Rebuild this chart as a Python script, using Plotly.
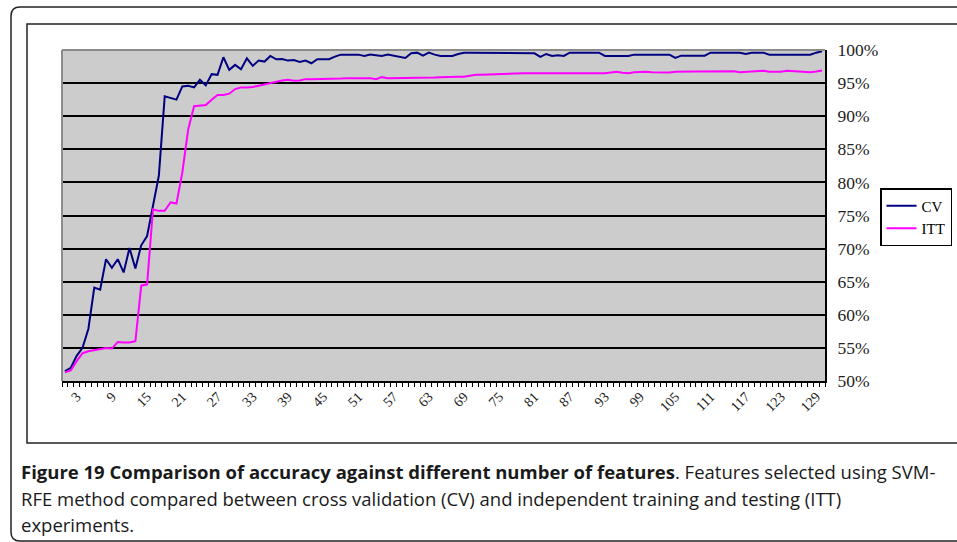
import plotly.graph_objects as go

features = list(range(1, 131))

cv = [51.5, 52.0, 53.8, 55.0, 57.9, 64.1, 63.8, 68.4, 67.1, 68.4,
      66.4, 70.1, 67.0, 70.5, 71.9, 76.2, 81.0, 93.0, 92.8, 92.5,
      94.5, 94.6, 94.35, 95.5, 94.65, 96.35, 96.25, 98.9, 97.0, 97.75,
      97.1, 98.75, 97.6, 98.4, 98.25, 99.1, 98.6, 98.65, 98.4, 98.5,
      98.2, 98.4, 98.0, 98.6, 98.6, 98.6, 99.0, 99.3, 99.3, 99.3,
      99.3, 99.1, 99.3, 99.2, 99.1, 99.3, 99.1, 99.0, 98.8, 99.5,
      99.6, 99.15, 99.6, 99.3, 99.1, 99.1, 99.1, 99.4, 99.6, 99.6,
      99.6, 99.6, 99.6, 99.6, 99.6, 99.6, 99.6, 99.6, 99.6, 99.6,
      99.5, 98.95, 99.4, 99.1, 99.2, 99.1, 99.6, 99.6, 99.6, 99.6,
      99.6, 99.6, 99.1, 99.1, 99.1, 99.1, 99.1, 99.3, 99.3, 99.3,
      99.3, 99.3, 99.3, 99.3, 98.8, 99.15, 99.15, 99.15, 99.15, 99.15,
      99.6, 99.6, 99.6, 99.6, 99.6, 99.6, 99.4, 99.6, 99.6, 99.6,
      99.3, 99.3, 99.3, 99.3, 99.3, 99.3, 99.3, 99.3, 99.6, 99.8]

itt = [51.3, 51.6, 53.0, 54.2, 54.5, 54.7, 54.8, 55.0, 54.9, 55.9,
       55.8, 55.8, 56.0, 64.4, 64.6, 75.9, 75.7, 75.7, 77.0, 76.8,
       81.5, 88.0, 91.5, 91.6, 91.7, 92.5, 93.2, 93.2, 93.4, 94.1,
       94.35, 94.35, 94.4, 94.6, 94.8, 95.0, 95.25, 95.4, 95.5, 95.35,
       95.4, 95.6, 95.6, 95.6, 95.7, 95.65, 95.6, 95.7, 95.75, 95.75,
       95.75, 95.75, 95.75, 95.6, 95.9, 95.75, 95.75, 95.85, 95.75, 95.75,
       95.75, 95.75, 95.75, 95.85, 95.9, 95.95, 95.95, 95.95, 95.95, 96.1,
       96.25, 96.25, 96.3, 96.35, 96.4, 96.4, 96.45, 96.5, 96.5, 96.5,
       96.5, 96.5, 96.4, 96.45, 96.5, 96.5, 96.5, 96.5, 96.5, 96.5,
       96.5, 96.5, 96.5, 96.6, 96.7, 96.55, 96.5, 96.65, 96.7, 96.7,
       96.65, 96.6, 96.6, 96.6, 96.7, 96.75, 96.75, 96.75, 96.75, 96.75,
       96.75, 96.75, 96.75, 96.75, 96.8, 96.65, 96.7, 96.7, 96.7, 96.85,
       96.7, 96.65, 96.7, 96.85, 96.8, 96.75, 96.7, 96.65, 96.75, 96.9]

tick_labels = [3, 9, 15, 21, 27, 33, 39, 45, 51, 57, 63, 69, 75, 81, 87,
               93, 99, 105, 111, 117, 123, 129]
y_ticks = [50, 55, 60, 65, 70, 75, 80, 85, 90, 95, 100]

W, H = 957, 542
L, R, T, B = 62, 825, 50, 381


def px(x):
    return (x - L) / (R - L)


def py(y):
    return (B - y) / (B - T)


SERIF = "Liberation Serif"
SANS = "Open Sans"

fig = go.Figure()
fig.add_trace(go.Scatter(x=features, y=cv, mode="lines", name="CV",
                         line=dict(color="#000080", width=2)))
fig.add_trace(go.Scatter(x=features, y=itt, mode="lines", name="ITT",
                         line=dict(color="#FF00FF", width=2)))

# rounded outer caption box
r = 9
x0, y0, x1, y1 = 11, 7, 990, 541
path = (f"M {px(x0)},{py(y0 + r)} Q {px(x0)},{py(y0)} {px(x0 + r)},{py(y0)} "
        f"L {px(x1)},{py(y0)} L {px(x1)},{py(y1)} L {px(x0 + r)},{py(y1)} "
        f"Q {px(x0)},{py(y1)} {px(x0)},{py(y1 - r)} Z")
shapes = [
    dict(type="path", xref="paper", yref="paper", path=path,
         line=dict(color="#222222", width=1.5), layer="below"),
    dict(type="rect", xref="paper", yref="paper",
         x0=px(27), x1=px(990), y0=py(443), y1=py(24),
         line=dict(color="#222222", width=1.5), layer="below"),
    # grey top / left border of plot area
    dict(type="line", xref="paper", yref="paper", x0=0, x1=1, y0=1, y1=1,
         line=dict(color="#8c8c8c", width=2), layer="above"),
    dict(type="line", xref="paper", yref="paper", x0=0, x1=0, y0=0, y1=1,
         line=dict(color="#8c8c8c", width=2), layer="above"),
]

cap_font = dict(family=SANS, size=18.5, color="#1a1a1a")
annotations = [
    dict(xref="paper", yref="paper", x=px(19), y=py(471), xanchor="left",
         yanchor="middle", showarrow=False,
         text="<b>Figure 19 Comparison of accuracy against different number of features</b>. "
              "Features selected using SVM-",
         font=cap_font),
    dict(xref="paper", yref="paper", x=px(19), y=py(498), xanchor="left",
         yanchor="middle", showarrow=False,
         text="RFE method compared between cross validation (CV) and independent training and testing (ITT)",
         font=cap_font),
    dict(xref="paper", yref="paper", x=px(19), y=py(524), xanchor="left",
         yanchor="middle", showarrow=False,
         text="experiments.",
         font=cap_font),
]

fig.update_layout(
    width=W, height=H,
    margin=dict(l=L, r=W - R, t=T, b=H - B, autoexpand=False),
    paper_bgcolor="white",
    plot_bgcolor="#CCCCCC",
    showlegend=True,
    legend=dict(x=px(880), y=py(188), xanchor="left", yanchor="top",
                bgcolor="white", bordercolor="black", borderwidth=1.5,
                font=dict(family=SERIF, size=15, color="black"),
                tracegroupgap=0, itemwidth=30),
    shapes=shapes,
    annotations=annotations,
    xaxis=dict(range=[0.5, 130.5], tickmode="array", tickvals=tick_labels,
               ticktext=[str(t) for t in tick_labels], tickangle=-45,
               ticks="", showgrid=False, zeroline=False,
               showline=True, linecolor="black", linewidth=2,
               tickfont=dict(family=SERIF, size=14, color="#222222"),
               minor=dict(tickmode="linear", tick0=0.5, dtick=1,
                          ticks="outside", ticklen=4, tickcolor="black",
                          tickwidth=1, showgrid=False)),
    yaxis=dict(range=[50, 100], side="right", tickmode="array",
               tickvals=y_ticks, ticktext=[f"{v}%" for v in y_ticks],
               showgrid=True, gridcolor="black", gridwidth=2,
               zeroline=False, showline=True, linecolor="black",
               linewidth=2, ticks="", ticklabelstandoff=7,
               tickfont=dict(family=SERIF, size=17.5, color="#222222")),
)

fig.write_html("out.html", config={"displayModeBar": False},
               post_script="document.body.style.margin='0px';document.body.style.padding='0px';")
